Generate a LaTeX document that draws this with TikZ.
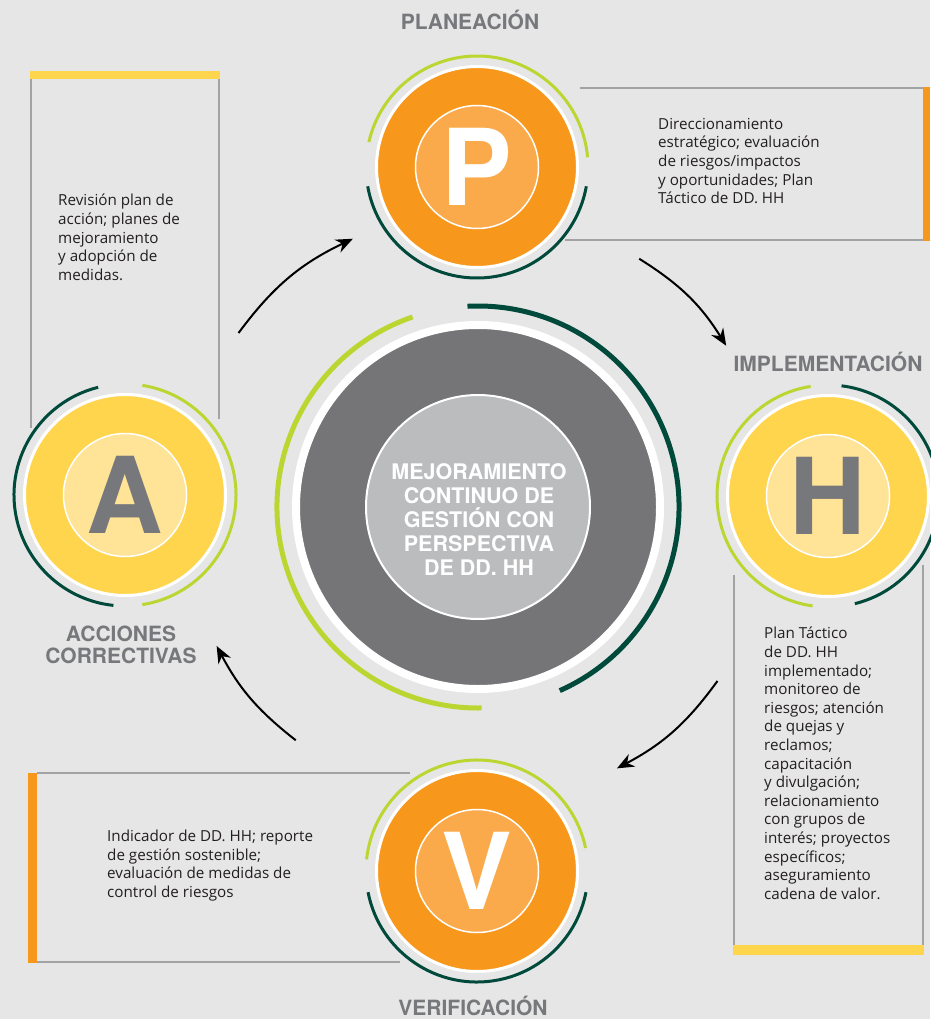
\documentclass[tikz,border=0pt]{standalone}
\usepackage{fontspec}
\setmainfont{Open Sans}
\newfontfamily\headfont{TeX Gyre Heros}
\usetikzlibrary{arrows.meta}

\definecolor{bgGray}{HTML}{E6E6E6}
\definecolor{pvOrange}{HTML}{F7981D}
\definecolor{pvLight}{HTML}{FAAA4B}
\definecolor{ahYellow}{HTML}{FFD54E}
\definecolor{ahLight}{HTML}{FFE396}
\definecolor{coreGray}{HTML}{757578}
\definecolor{coreLight}{HTML}{BBBCBE}
\definecolor{lime}{HTML}{BCD631}
\definecolor{pine}{HTML}{004A3B}
\definecolor{rule}{HTML}{A3A3A5}
\definecolor{ink}{HTML}{231F20}
\definecolor{title}{HTML}{77787B}

\tikzset{
  ring/.style={circle, inner sep=0, outer sep=0, minimum size=201, draw=white, line width=3},
  letter/.style={circle, inner sep=0, outer sep=0, minimum size=123, draw=white, line width=1.5,
    font=\headfont\bfseries\fontsize{106}{106}\selectfont},
  arcline/.style={line width=3},
  bigarc/.style={line width=5},
  boxline/.style={draw=rule, line width=1.5},
  note/.style={anchor=north west, inner sep=0, align=left, text=ink,
    font=\fontsize{15.2}{18.6}\selectfont},
  phase/.style={text=title, align=center, inner sep=0,
    font=\headfont\bfseries\fontsize{21}{22}\selectfont},
  cycle arrow/.style={line width=2, -{Stealth[length=17, width=14]}}
}

\begin{document}
\begin{tikzpicture}[x=1pt, y=1pt]
\fill[bgGray] (0,0) rectangle (930,-1019);
\useasboundingbox (0,0) rectangle (930,-1019);

% centre
\node[circle, inner sep=0, minimum size=364, fill=coreGray, draw=white, line width=8] (core) at (478,-507) {};
\node[circle, inner sep=0, minimum size=224, fill=coreLight, draw=white, line width=2] (corein) at (core) {};
\node[text=white, align=center, inner sep=0, font=\headfont\bfseries\fontsize{21.5}{24}\selectfont]
  (coretext) at ([xshift=1, yshift=-13]core.center) {MEJORAMIENTO\\CONTINUO DE\\GESTIÓN CON\\PERSPECTIVA\\DE DD. HH};
\draw[lime, bigarc] ([shift={(109:201)}]core.center) arc[start angle=109, end angle=271, radius=201];
\draw[pine, bigarc] ([shift={(-66:201)}]core.center) arc[start angle=-66, end angle=93, radius=201];

% phase circles
\node[ring, fill=pvOrange] (p) at (477,-167) {};
\node[letter, fill=pvLight, text=white] (pin) at (p) {P};
\node[ring, fill=ahYellow] (h) at (828,-496) {};
\node[letter, fill=ahLight, text=title] (hin) at (h) {H};
\node[ring, fill=pvOrange] (v) at (477,-871) {};
\node[letter, fill=pvLight, text=white] (vin) at (v) {V};
\node[ring, fill=ahYellow] (a) at (125,-495) {};
\node[letter, fill=ahLight, text=title] (ain) at (a) {A};

\draw[lime, arcline] ([shift={(5:111)}]p.center) arc[start angle=5, end angle=167, radius=111];
\draw[pine, arcline] ([shift={(190:111)}]p.center) arc[start angle=190, end angle=350, radius=111];
\draw[lime, arcline] ([shift={(99:111)}]h.center) arc[start angle=99, end angle=262, radius=111];
\draw[pine, arcline] ([shift={(-76:111)}]h.center) arc[start angle=-76, end angle=83, radius=111];
\draw[lime, arcline] ([shift={(12:111)}]v.center) arc[start angle=12, end angle=174, radius=111];
\draw[pine, arcline] ([shift={(191:111)}]v.center) arc[start angle=191, end angle=349, radius=111];
\draw[pine, arcline] ([shift={(104:111)}]a.center) arc[start angle=104, end angle=264, radius=111];
\draw[lime, arcline] ([shift={(-81:111)}]a.center) arc[start angle=-81, end angle=81, radius=111];

% phase titles
\node[phase] (ptitle) at (470,-20) {PLANEACIÓN};
\node[phase] (htitle) at (828,-362) {IMPLEMENTACIÓN};
\node[phase] (vtitle) at (473,-1006) {VERIFICACIÓN};
\node[phase] (atitle) at (121,-645) {ACCIONES\\CORRECTIVAS};

% text frames
\fill[ahYellow] (30,-71) rectangle (220,-79);
\draw[boxline] (31,-79) -- (31,-428);
\draw[boxline] (219,-79) -- (219,-419);
\node[note] (atext) at (58,-194) {Revisión plan de\\acción; planes de\\mejoramiento\\y adopción de\\medidas.};

\fill[pvOrange] (923,-87) rectangle (930,-241);
\draw[boxline] (580,-88) -- (923,-88);
\draw[boxline] (565,-240) -- (923,-240);
\node[note] (ptext) at (658,-118) {Direccionamiento\\estratégico; evaluación\\de riesgos/impactos\\y oportunidades; Plan\\Táctico de DD. HH};

\fill[ahYellow] (733,-945) rectangle (924,-955);
\draw[boxline] (734,-575) -- (734,-945);
\draw[boxline] (923,-565) -- (923,-945);
\node[note] (htext) at (764,-627) {Plan Táctico\\de DD. HH\\implementado;\\monitoreo de\\riesgos; atención\\de quejas y\\reclamos;\\capacitación\\y divulgación;\\relacionamiento\\con grupos de\\interés; proyectos\\específicos;\\aseguramiento\\cadena de valor.};

\fill[pvOrange] (28,-773) rectangle (37,-963);
\draw[boxline] (37,-773) -- (410,-773);
\draw[boxline] (37,-962) -- (400,-962);
\node[note] (vtext) at (107,-830) {Indicador de DD. HH; reporte\\de gestión sostenible;\\evaluación de medidas de\\control de riesgos};

% cycle arrows
\coordinate (ap1) at ([shift={(144:296)}]core.center);
\coordinate (ap2) at ([shift={(115:296)}]core.center);
\coordinate (ph1) at ([shift={(57:296)}]core.center);
\coordinate (ph2) at ([shift={(33:296)}]core.center);
\coordinate (hv1) at ([shift={(-36:296)}]core.center);
\coordinate (hv2) at ([shift={(-62:296)}]core.center);
\coordinate (va1) at ([shift={(232:296)}]core.center);
\coordinate (va2) at ([shift={(208:296)}]core.center);
\draw[cycle arrow] (ap1) to[bend left=14] (ap2);
\draw[cycle arrow] (ph1) to[bend left=13] (ph2);
\draw[cycle arrow] (hv1) to[bend left=13] (hv2);
\draw[cycle arrow] (va1) to[bend left=12] (va2);
\end{tikzpicture}
\end{document}
